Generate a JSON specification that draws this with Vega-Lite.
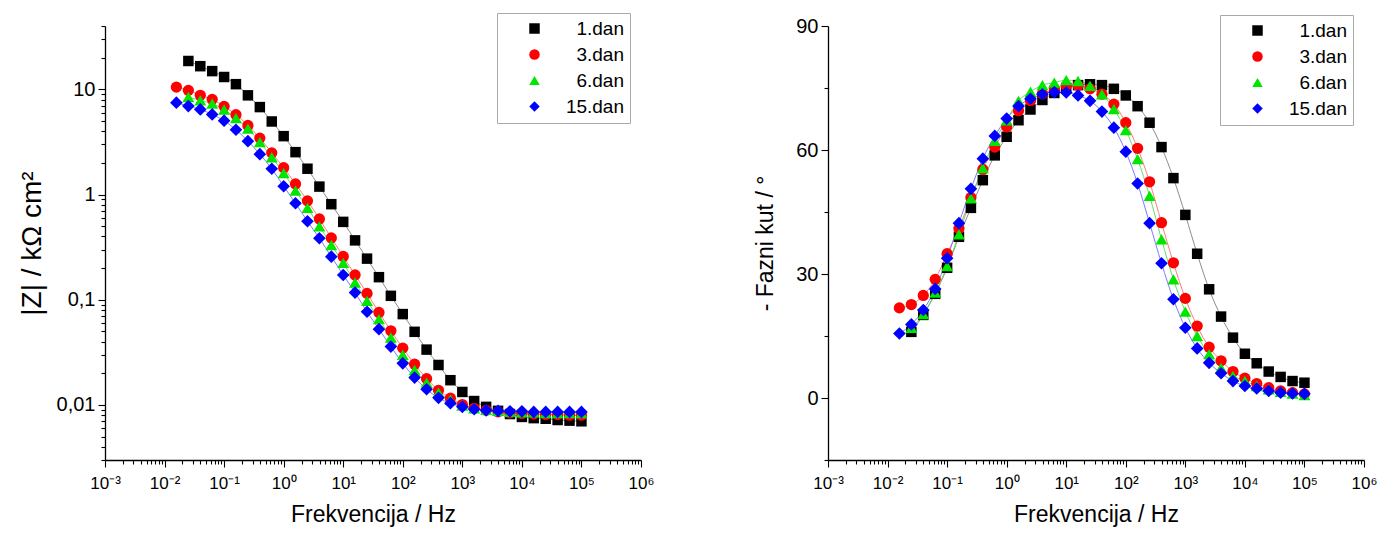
{
  "$schema": "https://vega.github.io/schema/vega-lite/v6.json",
  "background": "white",
  "padding": {"left": 18, "top": 12, "right": 5, "bottom": 5},
  "autosize": {"type": "pad"},
  "spacing": 187,
  "bounds": "flush",
  "config": {
    "font": "Liberation Sans",
    "view": {"stroke": null},
    "axis": {"grid": false, "domainColor": "#000", "domainWidth": 1.3, "tickColor": "#000", "tickWidth": 1.1, "labelColor": "#000", "titleColor": "#000", "titleFontWeight": "normal", "labelOverlap": false, "labelBound": false, "labelFlush": false},
    "legend": {"title": null, "strokeColor": "#aaaaaa", "fillColor": "white", "padding": 6, "rowPadding": 6, "labelFontSize": 19, "labelColor": "#000", "symbolSize": 110, "symbolStrokeWidth": 0, "symbolOffset": 22}
  },
  "datasets": {
    "eis": [
      {"f": 0.0251, "day": "1.dan", "z": 18.6, "p": 16.0},
      {"f": 0.0398, "day": "1.dan", "z": 16.6, "p": 20.1},
      {"f": 0.0631, "day": "1.dan", "z": 14.9, "p": 25.2},
      {"f": 0.1, "day": "1.dan", "z": 13.1, "p": 31.5},
      {"f": 0.158, "day": "1.dan", "z": 11.2, "p": 39.0},
      {"f": 0.251, "day": "1.dan", "z": 8.77, "p": 46.0},
      {"f": 0.398, "day": "1.dan", "z": 6.78, "p": 52.7},
      {"f": 0.631, "day": "1.dan", "z": 4.95, "p": 58.7},
      {"f": 1, "day": "1.dan", "z": 3.59, "p": 63.2},
      {"f": 1.58, "day": "1.dan", "z": 2.53, "p": 67.2},
      {"f": 2.51, "day": "1.dan", "z": 1.76, "p": 69.8},
      {"f": 3.98, "day": "1.dan", "z": 1.19, "p": 72.1},
      {"f": 6.31, "day": "1.dan", "z": 0.81, "p": 73.8},
      {"f": 10, "day": "1.dan", "z": 0.55, "p": 75.0},
      {"f": 15.8, "day": "1.dan", "z": 0.367, "p": 75.7},
      {"f": 25.1, "day": "1.dan", "z": 0.246, "p": 75.9},
      {"f": 39.8, "day": "1.dan", "z": 0.164, "p": 75.7},
      {"f": 63.1, "day": "1.dan", "z": 0.109, "p": 74.8},
      {"f": 100, "day": "1.dan", "z": 0.0731, "p": 73.2},
      {"f": 158, "day": "1.dan", "z": 0.0496, "p": 70.6},
      {"f": 251, "day": "1.dan", "z": 0.0336, "p": 66.6},
      {"f": 398, "day": "1.dan", "z": 0.024, "p": 60.7},
      {"f": 631, "day": "1.dan", "z": 0.0172, "p": 53.2},
      {"f": 1000, "day": "1.dan", "z": 0.0133, "p": 44.3},
      {"f": 1580, "day": "1.dan", "z": 0.0109, "p": 34.9},
      {"f": 2510, "day": "1.dan", "z": 0.0096, "p": 26.3},
      {"f": 3980, "day": "1.dan", "z": 0.0088, "p": 19.7},
      {"f": 6310, "day": "1.dan", "z": 0.0082, "p": 14.6},
      {"f": 10000, "day": "1.dan", "z": 0.0077, "p": 10.7},
      {"f": 15800, "day": "1.dan", "z": 0.0075, "p": 8.4},
      {"f": 25100, "day": "1.dan", "z": 0.0074, "p": 6.4},
      {"f": 39800, "day": "1.dan", "z": 0.0072, "p": 5.1},
      {"f": 63100, "day": "1.dan", "z": 0.0071, "p": 4.1},
      {"f": 100000, "day": "1.dan", "z": 0.0070, "p": 3.7},

      {"f": 0.0158, "day": "3.dan", "z": 10.5, "p": 21.8},
      {"f": 0.0251, "day": "3.dan", "z": 9.78, "p": 22.6},
      {"f": 0.0398, "day": "3.dan", "z": 8.77, "p": 24.8},
      {"f": 0.0631, "day": "3.dan", "z": 8.03, "p": 28.7},
      {"f": 0.1, "day": "3.dan", "z": 6.89, "p": 34.9},
      {"f": 0.158, "day": "3.dan", "z": 5.74, "p": 41.0},
      {"f": 0.251, "day": "3.dan", "z": 4.54, "p": 48.5},
      {"f": 0.398, "day": "3.dan", "z": 3.44, "p": 55.3},
      {"f": 0.631, "day": "3.dan", "z": 2.49, "p": 60.7},
      {"f": 1, "day": "3.dan", "z": 1.80, "p": 65.6},
      {"f": 1.58, "day": "3.dan", "z": 1.26, "p": 69.5},
      {"f": 2.51, "day": "3.dan", "z": 0.871, "p": 72.0},
      {"f": 3.98, "day": "3.dan", "z": 0.587, "p": 73.6},
      {"f": 6.31, "day": "3.dan", "z": 0.387, "p": 74.8},
      {"f": 10, "day": "3.dan", "z": 0.258, "p": 75.5},
      {"f": 15.8, "day": "3.dan", "z": 0.172, "p": 75.6},
      {"f": 25.1, "day": "3.dan", "z": 0.115, "p": 74.8},
      {"f": 39.8, "day": "3.dan", "z": 0.0758, "p": 73.5},
      {"f": 63.1, "day": "3.dan", "z": 0.0507, "p": 71.1},
      {"f": 100, "day": "3.dan", "z": 0.0347, "p": 66.6},
      {"f": 158, "day": "3.dan", "z": 0.0244, "p": 60.4},
      {"f": 251, "day": "3.dan", "z": 0.0178, "p": 52.3},
      {"f": 398, "day": "3.dan", "z": 0.0138, "p": 42.4},
      {"f": 631, "day": "3.dan", "z": 0.0116, "p": 32.7},
      {"f": 1000, "day": "3.dan", "z": 0.0101, "p": 24.1},
      {"f": 1580, "day": "3.dan", "z": 0.0093, "p": 17.4},
      {"f": 2510, "day": "3.dan", "z": 0.0089, "p": 12.3},
      {"f": 3980, "day": "3.dan", "z": 0.0086, "p": 9.0},
      {"f": 6310, "day": "3.dan", "z": 0.0084, "p": 6.4},
      {"f": 10000, "day": "3.dan", "z": 0.0083, "p": 4.8},
      {"f": 15800, "day": "3.dan", "z": 0.0082, "p": 3.5},
      {"f": 25100, "day": "3.dan", "z": 0.0081, "p": 2.5},
      {"f": 39800, "day": "3.dan", "z": 0.0081, "p": 1.7},
      {"f": 63100, "day": "3.dan", "z": 0.0080, "p": 1.3},
      {"f": 100000, "day": "3.dan", "z": 0.0080, "p": 1.0},

      {"f": 0.0251, "day": "6.dan", "z": 8.45, "p": 17.0},
      {"f": 0.0398, "day": "6.dan", "z": 7.85, "p": 20.3},
      {"f": 0.0631, "day": "6.dan", "z": 7.31, "p": 25.5},
      {"f": 0.1, "day": "6.dan", "z": 6.41, "p": 31.9},
      {"f": 0.158, "day": "6.dan", "z": 5.33, "p": 39.6},
      {"f": 0.251, "day": "6.dan", "z": 4.23, "p": 48.3},
      {"f": 0.398, "day": "6.dan", "z": 3.15, "p": 55.6},
      {"f": 0.631, "day": "6.dan", "z": 2.26, "p": 62.2},
      {"f": 1, "day": "6.dan", "z": 1.60, "p": 67.2},
      {"f": 1.58, "day": "6.dan", "z": 1.09, "p": 71.9},
      {"f": 2.51, "day": "6.dan", "z": 0.747, "p": 74.1},
      {"f": 3.98, "day": "6.dan", "z": 0.499, "p": 75.7},
      {"f": 6.31, "day": "6.dan", "z": 0.332, "p": 76.3},
      {"f": 10, "day": "6.dan", "z": 0.224, "p": 76.9},
      {"f": 15.8, "day": "6.dan", "z": 0.146, "p": 76.7},
      {"f": 25.1, "day": "6.dan", "z": 0.0977, "p": 75.5},
      {"f": 39.8, "day": "6.dan", "z": 0.0655, "p": 73.5},
      {"f": 63.1, "day": "6.dan", "z": 0.0438, "p": 69.9},
      {"f": 100, "day": "6.dan", "z": 0.0299, "p": 64.8},
      {"f": 158, "day": "6.dan", "z": 0.0215, "p": 57.8},
      {"f": 251, "day": "6.dan", "z": 0.0163, "p": 48.9},
      {"f": 398, "day": "6.dan", "z": 0.0131, "p": 38.4},
      {"f": 631, "day": "6.dan", "z": 0.0112, "p": 28.7},
      {"f": 1000, "day": "6.dan", "z": 0.0099, "p": 20.9},
      {"f": 1580, "day": "6.dan", "z": 0.0093, "p": 15.0},
      {"f": 2510, "day": "6.dan", "z": 0.0090, "p": 10.6},
      {"f": 3980, "day": "6.dan", "z": 0.0088, "p": 7.3},
      {"f": 6310, "day": "6.dan", "z": 0.0086, "p": 5.3},
      {"f": 10000, "day": "6.dan", "z": 0.0085, "p": 4.1},
      {"f": 15800, "day": "6.dan", "z": 0.0085, "p": 2.9},
      {"f": 25100, "day": "6.dan", "z": 0.0084, "p": 2.1},
      {"f": 39800, "day": "6.dan", "z": 0.0084, "p": 1.5},
      {"f": 63100, "day": "6.dan", "z": 0.0084, "p": 1.1},
      {"f": 100000, "day": "6.dan", "z": 0.0084, "p": 0.7},

      {"f": 0.0158, "day": "15.dan", "z": 7.47, "p": 15.6},
      {"f": 0.0251, "day": "15.dan", "z": 6.93, "p": 17.8},
      {"f": 0.0398, "day": "15.dan", "z": 6.45, "p": 21.3},
      {"f": 0.0631, "day": "15.dan", "z": 5.78, "p": 26.4},
      {"f": 0.1, "day": "15.dan", "z": 5.04, "p": 33.8},
      {"f": 0.158, "day": "15.dan", "z": 4.13, "p": 42.3},
      {"f": 0.251, "day": "15.dan", "z": 3.22, "p": 50.6},
      {"f": 0.398, "day": "15.dan", "z": 2.42, "p": 57.9},
      {"f": 0.631, "day": "15.dan", "z": 1.76, "p": 63.4},
      {"f": 1, "day": "15.dan", "z": 1.20, "p": 67.6},
      {"f": 1.58, "day": "15.dan", "z": 0.826, "p": 70.6},
      {"f": 2.51, "day": "15.dan", "z": 0.557, "p": 72.4},
      {"f": 3.98, "day": "15.dan", "z": 0.384, "p": 73.5},
      {"f": 6.31, "day": "15.dan", "z": 0.257, "p": 74.0},
      {"f": 10, "day": "15.dan", "z": 0.172, "p": 73.9},
      {"f": 15.8, "day": "15.dan", "z": 0.117, "p": 73.2},
      {"f": 25.1, "day": "15.dan", "z": 0.0769, "p": 71.9},
      {"f": 39.8, "day": "15.dan", "z": 0.0526, "p": 69.3},
      {"f": 63.1, "day": "15.dan", "z": 0.0359, "p": 65.4},
      {"f": 100, "day": "15.dan", "z": 0.0249, "p": 59.6},
      {"f": 158, "day": "15.dan", "z": 0.0182, "p": 51.9},
      {"f": 251, "day": "15.dan", "z": 0.0141, "p": 42.3},
      {"f": 398, "day": "15.dan", "z": 0.0117, "p": 32.6},
      {"f": 631, "day": "15.dan", "z": 0.0104, "p": 23.9},
      {"f": 1000, "day": "15.dan", "z": 0.0096, "p": 17.0},
      {"f": 1580, "day": "15.dan", "z": 0.0091, "p": 12.0},
      {"f": 2510, "day": "15.dan", "z": 0.0089, "p": 8.5},
      {"f": 3980, "day": "15.dan", "z": 0.0088, "p": 6.0},
      {"f": 6310, "day": "15.dan", "z": 0.0087, "p": 4.1},
      {"f": 10000, "day": "15.dan", "z": 0.0087, "p": 2.9},
      {"f": 15800, "day": "15.dan", "z": 0.0086, "p": 2.3},
      {"f": 25100, "day": "15.dan", "z": 0.0086, "p": 1.7},
      {"f": 39800, "day": "15.dan", "z": 0.0086, "p": 1.3},
      {"f": 63100, "day": "15.dan", "z": 0.0086, "p": 1.1},
      {"f": 100000, "day": "15.dan", "z": 0.0086, "p": 1.0}
    ]
  },
  "resolve": {
    "scale": {"color": "independent", "shape": "independent", "stroke": "independent", "size": "independent"},
    "legend": {"color": "independent", "shape": "independent"}
  },
  "hconcat": [
    {
      "width": 536,
      "height": 434,
      "data": {"name": "eis"},
      "encoding": {
        "x": {
          "field": "f", "type": "quantitative",
          "scale": {"type": "log", "domain": [0.001, 1000000], "nice": false},
          "axis": {
            "title": "Frekvencija / Hz", "titleFontSize": 23, "titlePadding": 12,
            "labelFontSize": 17, "labelPadding": 8,
            "values": [0.001,0.002,0.003,0.004,0.005,0.006,0.007,0.008,0.009,0.01,0.02,0.03,0.04,0.05,0.06,0.07,0.08,0.09,0.1,0.2,0.3,0.4,0.5,0.6,0.7,0.8,0.9,1,2,3,4,5,6,7,8,9,10,20,30,40,50,60,70,80,90,100,200,300,400,500,600,700,800,900,1000,2000,3000,4000,5000,6000,7000,8000,9000,10000,20000,30000,40000,50000,60000,70000,80000,90000,100000,200000,300000,400000,500000,600000,700000,800000,900000,1000000],
            "labelExpr": "abs(log(datum.value)/LN10 - round(log(datum.value)/LN10)) < 0.001 ? ['10⁻³','10⁻²','10⁻¹','10⁰','10¹','10²','10³','10⁴','10⁵','10⁶'][round(log(datum.value)/LN10)+3] : ''",
            "tickSize": {"condition": {"test": "abs(log(datum.value)/LN10 - round(log(datum.value)/LN10)) < 0.001", "value": 7}, "value": 4}
          }
        },
        "y": {
          "field": "z", "type": "quantitative",
          "scale": {"type": "log", "domain": [0.003, 40], "nice": false},
          "axis": {
            "title": "|Z| / kΩ cm²", "titleFontSize": 28, "titlePadding": 10,
            "labelFontSize": 20, "labelPadding": 3,
            "values": [0.003,0.004,0.005,0.006,0.007,0.008,0.009,0.01,0.02,0.03,0.04,0.05,0.06,0.07,0.08,0.09,0.1,0.2,0.3,0.4,0.5,0.6,0.7,0.8,0.9,1,2,3,4,5,6,7,8,9,10,20,30,40],
            "labelExpr": "abs(log(datum.value)/LN10 - round(log(datum.value)/LN10)) < 0.001 ? replace(toString(datum.value), '.', ',') : ''",
            "tickSize": {"condition": {"test": "abs(log(datum.value)/LN10 - round(log(datum.value)/LN10)) < 0.001", "value": 7}, "value": 4}
          }
        }
      },
      "layer": [
        {
          "transform": [{"filter": "isValid(datum.z)"}],
          "mark": {"type": "line", "strokeWidth": 1, "interpolate": "monotone"},
          "encoding": {
            "stroke": {"field": "day", "type": "nominal", "scale": {"domain": ["15.dan", "6.dan", "3.dan", "1.dan"], "range": ["#7a7aff", "#66dd66", "#ff7a7a", "#8c8c8c"]}, "legend": null}
          }
        },
        {
          "transform": [{"filter": "isValid(datum.z)"}],
          "mark": {"type": "point", "filled": true, "opacity": 1, "strokeWidth": 0},
          "encoding": {
            "color": {"field": "day", "type": "nominal", "scale": {"domain": ["1.dan", "3.dan", "6.dan", "15.dan"], "range": ["#000000", "#ff0000", "#00e600", "#0000ff"]}, "legend": {"orient": "none", "legendX": 392, "legendY": -13, "labelAlign": "right", "labelOffset": 80}},
            "shape": {"field": "day", "type": "nominal", "scale": {"domain": ["1.dan", "3.dan", "6.dan", "15.dan"], "range": ["square", "circle", "triangle-up", "diamond"]}, "legend": {"orient": "none", "legendX": 392, "legendY": -13, "labelAlign": "right", "labelOffset": 80}},
            "size": {"field": "day", "type": "nominal", "scale": {"domain": ["15.dan", "6.dan", "3.dan", "1.dan"], "range": [160, 110, 100, 105]}, "legend": null}
          }
        }
      ]
    },
    {
      "width": 536,
      "height": 434,
      "data": {"name": "eis"},
      "encoding": {
        "x": {
          "field": "f", "type": "quantitative",
          "scale": {"type": "log", "domain": [0.001, 1000000], "nice": false},
          "axis": {
            "title": "Frekvencija / Hz", "titleFontSize": 23, "titlePadding": 12,
            "labelFontSize": 17, "labelPadding": 8,
            "values": [0.001,0.002,0.003,0.004,0.005,0.006,0.007,0.008,0.009,0.01,0.02,0.03,0.04,0.05,0.06,0.07,0.08,0.09,0.1,0.2,0.3,0.4,0.5,0.6,0.7,0.8,0.9,1,2,3,4,5,6,7,8,9,10,20,30,40,50,60,70,80,90,100,200,300,400,500,600,700,800,900,1000,2000,3000,4000,5000,6000,7000,8000,9000,10000,20000,30000,40000,50000,60000,70000,80000,90000,100000,200000,300000,400000,500000,600000,700000,800000,900000,1000000],
            "labelExpr": "abs(log(datum.value)/LN10 - round(log(datum.value)/LN10)) < 0.001 ? ['10⁻³','10⁻²','10⁻¹','10⁰','10¹','10²','10³','10⁴','10⁵','10⁶'][round(log(datum.value)/LN10)+3] : ''",
            "tickSize": {"condition": {"test": "abs(log(datum.value)/LN10 - round(log(datum.value)/LN10)) < 0.001", "value": 7}, "value": 4}
          }
        },
        "y": {
          "field": "p", "type": "quantitative",
          "scale": {"domain": [-15, 90], "nice": false, "zero": false},
          "axis": {
            "title": "- Fazni kut / °", "titleFontSize": 23, "titlePadding": 18,
            "labelFontSize": 20, "labelPadding": 3,
            "values": [-15, 0, 15, 30, 45, 60, 75, 90],
            "labelExpr": "datum.value % 30 == 0 ? toString(datum.value) : ''",
            "tickSize": {"condition": {"test": "datum.value % 30 == 0", "value": 7}, "value": 4}
          }
        }
      },
      "layer": [
        {
          "transform": [{"filter": "isValid(datum.p)"}],
          "mark": {"type": "line", "strokeWidth": 1, "interpolate": "monotone"},
          "encoding": {
            "stroke": {"field": "day", "type": "nominal", "scale": {"domain": ["15.dan", "6.dan", "3.dan", "1.dan"], "range": ["#7a7aff", "#66dd66", "#ff7a7a", "#8c8c8c"]}, "legend": null}
          }
        },
        {
          "transform": [{"filter": "isValid(datum.p)"}],
          "mark": {"type": "point", "filled": true, "opacity": 1, "strokeWidth": 0},
          "encoding": {
            "color": {"field": "day", "type": "nominal", "scale": {"domain": ["1.dan", "3.dan", "6.dan", "15.dan"], "range": ["#000000", "#ff0000", "#00e600", "#0000ff"]}, "legend": {"orient": "none", "legendX": 392, "legendY": -11, "labelAlign": "right", "labelOffset": 80}},
            "shape": {"field": "day", "type": "nominal", "scale": {"domain": ["1.dan", "3.dan", "6.dan", "15.dan"], "range": ["square", "circle", "triangle-up", "diamond"]}, "legend": {"orient": "none", "legendX": 392, "legendY": -11, "labelAlign": "right", "labelOffset": 80}},
            "size": {"field": "day", "type": "nominal", "scale": {"domain": ["15.dan", "6.dan", "3.dan", "1.dan"], "range": [160, 110, 100, 105]}, "legend": null}
          }
        }
      ]
    }
  ]
}
